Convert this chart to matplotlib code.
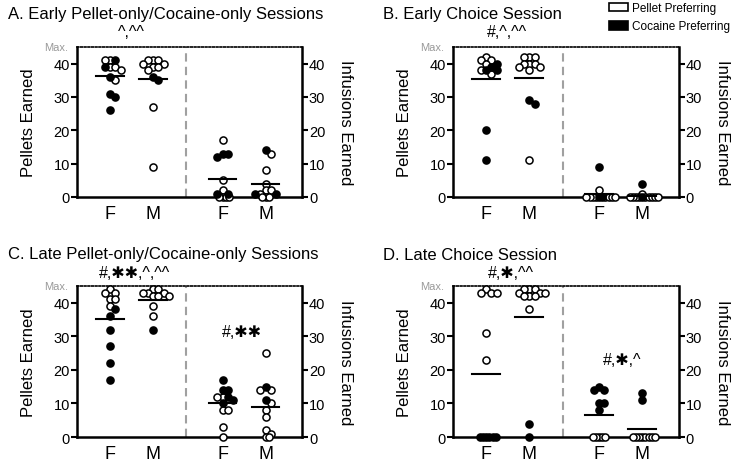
import numpy as np
import matplotlib
matplotlib.use("Agg")
import matplotlib.pyplot as plt
from matplotlib.patches import Patch

plt.rcParams['font.family'] = ['Liberation Sans', 'DejaVu Sans']

# Datos (p = pellet preferring, c = cocaine preferring)
a_pel_f = [41, 41, 41, 39, 39, 39, 38, 36, 35, 31, 30, 26]
a_pel_f_pref = "pcpppcpcpccc"
a_pel_m = [41, 41, 41, 40, 40, 39, 39, 38, 36, 35, 27, 9]
a_pel_m_pref = "ppppppppccpp"
a_inf_f = [17, 13, 13, 12, 5, 2, 1, 1, 0, 0, 0, 0]
a_inf_f_pref = "pcccppccpppp"
a_inf_m = [14, 13, 8, 4, 2, 2, 1, 1, 1, 0, 0, 0]
a_inf_m_pref = "cppppppccppp"

b_pel_f = [42, 41, 41, 40, 40, 39, 38, 38, 38, 37, 20, 11]
b_pel_f_pref = "ppppcccpcpcc"
b_pel_m = [42, 42, 42, 40, 40, 40, 39, 39, 38, 29, 28, 11]
b_pel_m_pref = "pppppppppccp"
b_inf_f = [9, 2, 0, 0, 0, 0, 0, 0, 0, 0, 0, 0]
b_inf_f_pref = "cpccpppppppp"
b_inf_m = [4, 1, 0, 0, 0, 0, 0, 0, 0, 0, 0, 0]
b_inf_m_pref = "cpcppppppppp"

c_pel_f = [44, 43, 43, 41, 41, 39, 38, 36, 32, 27, 22, 17]
c_pel_f_pref = "ppppppcccccc"
c_pel_m = [44, 44, 43, 43, 43, 42, 42, 42, 39, 36, 32]
c_pel_m_pref = "ppppppppppc"
c_inf_f = [17, 14, 14, 12, 12, 12, 11, 10, 8, 8, 3, 0]
c_inf_f_pref = "cccpcpccpppp"
c_inf_m = [25, 15, 14, 14, 11, 10, 8, 6, 2, 1, 0, 0]
c_inf_m_pref = "pcppcppppppp"

d_pel_f = [44, 43, 43, 43, 31, 23, 0, 0, 0, 0, 0, 0]
d_pel_f_pref = "ppppppcccccc"
d_pel_m = [44, 44, 44, 43, 43, 43, 42, 42, 42, 38, 4, 0]
d_pel_m_pref = "ppppppppppcc"
d_inf_f = [15, 14, 14, 10, 10, 8, 0, 0, 0, 0, 0]
d_inf_f_pref = "ccccccppppp"
d_inf_m = [13, 11, 0, 0, 0, 0, 0, 0, 0, 0]
d_inf_m_pref = "ccpppppppp"

titulos = ["A. Early Pellet-only/Cocaine-only Sessions",
           "B. Early Choice Session",
           "C. Late Pellet-only/Cocaine-only Sessions",
           "D. Late Choice Session"]
etiquetas_x = ["F", "M", "F", "M"]
paneles = [
    [(a_pel_f, a_pel_f_pref), (a_pel_m, a_pel_m_pref), (a_inf_f, a_inf_f_pref), (a_inf_m, a_inf_m_pref)],
    [(b_pel_f, b_pel_f_pref), (b_pel_m, b_pel_m_pref), (b_inf_f, b_inf_f_pref), (b_inf_m, b_inf_m_pref)],
    [(c_pel_f, c_pel_f_pref), (c_pel_m, c_pel_m_pref), (c_inf_f, c_inf_f_pref), (c_inf_m, c_inf_m_pref)],
    [(d_pel_f, d_pel_f_pref), (d_pel_m, d_pel_m_pref), (d_inf_f, d_inf_f_pref), (d_inf_m, d_inf_m_pref)],
]
# anotaciones: (texto, x, y)
notas = [
    [("^,^^", 1.65, 49.5)],
    [("#,^,^^", 1.63, 49.5)],
    [("#,\u2731\u2731,^,^^", 1.75, 49), ("#,\u2731\u2731", 5.0, 31.5)],
    [("#,\u2731,^^", 1.73, 49), ("#,\u2731,^", 5.09, 23.1)],
]

posiciones = [1.0, 2.3, 4.4, 5.7]
divisor = 3.3
xmax = 6.8
ymax = 45

W, H, DPI = 7.34, 4.64, 100
fig = plt.figure(figsize=(W, H), dpi=DPI)

rects = [[0.1049, 0.5733, 0.3065, 0.3233],
         [0.6172, 0.5733, 0.3075, 0.3233],
         [0.1049, 0.056, 0.3065, 0.3255],
         [0.6172, 0.056, 0.3075, 0.3255]]


def enjambre(vals, ppx, ppy, d=7.0):
    # posiciones tipo beeswarm en pixeles -> unidades de datos
    puestos = []
    offs = []
    for v in vals:
        y = v * ppy
        gap = d * 0.45 if v == 0 else d * 0.75
        paso = gap / 2
        cands = [0.0] + [s * i * paso for i in range(1, 40) for s in (1, -1)]
        for c in cands:
            if all((c - px) ** 2 + (y - py) ** 2 >= gap ** 2 - 1e-6 for px, py in puestos):
                puestos.append((c, y))
                offs.append(c / ppx)
                break
    return np.array(offs)


for k in range(4):
    ax = fig.add_axes(rects[k])
    r = rects[k]
    ppx = r[2] * W * DPI / xmax
    ppy = r[3] * H * DPI / ymax
    for j, (vals, pref) in enumerate(paneles[k]):
        vals = np.array(vals, dtype=float)
        offs = enjambre(vals, ppx, ppy)
        llenos = np.array([ch == 'c' for ch in pref])
        xs = posiciones[j] + offs
        ax.scatter(xs[~llenos], vals[~llenos], s=26, facecolor='white', edgecolor='black',
                   linewidth=1.1, zorder=4, clip_on=False)
        ax.scatter(xs[llenos], vals[llenos], s=26, facecolor='black', edgecolor='black',
                   linewidth=1.1, zorder=5, clip_on=False)
        m = vals.mean()
        ax.plot([posiciones[j] - 0.42, posiciones[j] + 0.42], [m, m], color='black', lw=1.5, zorder=6)

    ax.axvline(divisor, color='#a0a0a0', lw=1.5, ls=(0, (4, 2.5)), zorder=1)
    ax.set_xlim(0, xmax)
    ax.set_ylim(0, ymax)
    ax.set_xticks(posiciones)
    ax.set_xticklabels(etiquetas_x, fontsize=13)
    ax.tick_params(axis='x', length=0, pad=6)
    ax.set_yticks([0, 10, 20, 30, 40])
    ax.tick_params(axis='y', length=4, width=1.5, labelsize=10.5, pad=1)
    for lado in ['left', 'bottom', 'right']:
        ax.spines[lado].set_linewidth(1.8)
    ax.spines['top'].set_linestyle((0, (1, 1.2)))
    ax.spines['top'].set_linewidth(1.2)
    ax.set_ylabel("Pellets Earned", fontsize=12, labelpad=13)
    ax.text(-0.04, ymax, "Max.", transform=ax.get_yaxis_transform(), ha='right', va='center',
            fontsize=8, color='#999999')

    ax2 = ax.twinx()
    ax2.set_ylim(0, ymax)
    ax2.set_yticks([0, 10, 20, 30, 40])
    ax2.tick_params(axis='y', length=4, width=1.5, labelsize=10.5, pad=1)
    for lado in ['left', 'bottom', 'right', 'top']:
        ax2.spines[lado].set_visible(False)
    ax2.set_ylabel("Infusions Earned", fontsize=12, rotation=270, va='bottom', labelpad=9)

    for texto, x, y in notas[k]:
        ax.text(x, y, texto, ha='center', va='center', fontsize=11.5,
                family=['Liberation Sans', 'DejaVu Sans'])

    fx = 8 / (W * DPI) if k % 2 == 0 else 383 / (W * DPI)
    fy = 1 - 15 / (H * DPI) if k < 2 else 1 - 255 / (H * DPI)
    fig.text(fx, fy, titulos[k], fontsize=12, ha='left', va='center')

manijas = [Patch(facecolor='white', edgecolor='black', linewidth=1.2, label='Pellet Preferring'),
           Patch(facecolor='black', edgecolor='black', linewidth=1.2, label='Cocaine Preferring')]
fig.legend(handles=manijas, loc='upper left', bbox_to_anchor=(609 / 734, 1 - 3 / 464), frameon=False,
           fontsize=8.5, handlelength=1.6, handleheight=0.76, handletextpad=0.35,
           labelspacing=0.55, borderpad=0, borderaxespad=0)

fig.savefig("out.png", dpi=DPI)
